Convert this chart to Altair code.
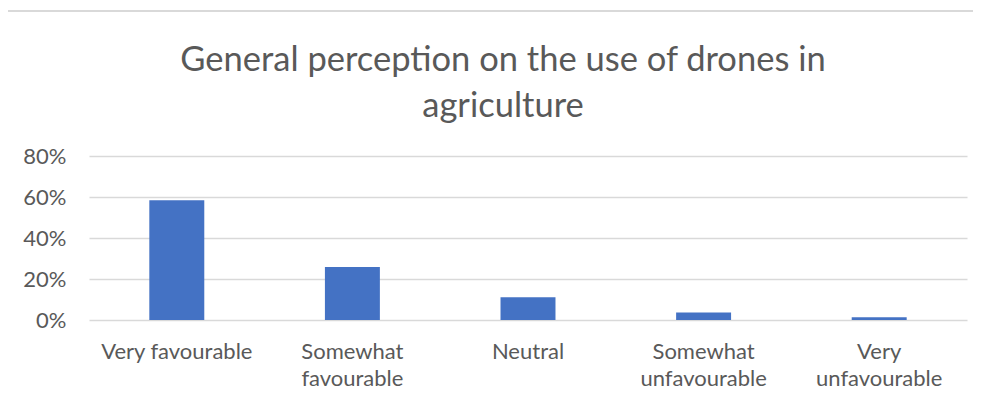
import altair as alt
import pandas as pd

categories = ["Very favourable", "Somewhat favourable", "Neutral",
              "Somewhat unfavourable", "Very unfavourable"]
values = [0.584, 0.259, 0.111, 0.037, 0.013]

df = pd.DataFrame({"category": categories, "value": values})

FONT = "Lato"
GRAY = "#595959"

bars = alt.Chart(df).mark_bar(color="#4472C4").encode(
    x=alt.X("category:N", sort=categories, title=None,
            scale=alt.Scale(paddingInner=0.687, paddingOuter=0.3435),
            axis=alt.Axis(labelAngle=0, domain=False, ticks=False,
                          labelPadding=21, labelFontSize=22, labelFont=FONT,
                          labelColor=GRAY, labelLineHeight=27,
                          labelExpr="(datum.value == 'Very favourable' || datum.value == 'Neutral') ? datum.value : split(datum.value, ' ')")),
    y=alt.Y("value:Q", title=None,
            scale=alt.Scale(domain=[0, 0.8], nice=False),
            axis=alt.Axis(values=[0, 0.2, 0.4, 0.6, 0.8], format=".0%",
                          domain=False, ticks=False, labelPadding=23,
                          labelFontSize=22, labelFont=FONT, labelColor=GRAY,
                          gridColor="#D9D9D9", gridWidth=1.3)),
)

frame = alt.Chart(df).mark_rule(color="#D9D9D9", strokeWidth=1.5).encode(
    x=alt.value(-85), x2=alt.value(900), y=alt.value(-145))
frame_left = alt.Chart(df).mark_rule(color="#D9D9D9", strokeWidth=1.5).encode(
    x=alt.value(-85), y=alt.value(-145), y2=alt.value(300))

chart = alt.layer(frame, frame_left, bars).properties(
    width=878, height=164,
    autosize=alt.AutoSizeParams(type="none"),
    padding={"left": 81, "top": 148, "right": 6, "bottom": 70},
    title=alt.TitleParams(
        text=["General perception on the use of drones in", "agriculture"],
        font=FONT, fontSize=34.5, fontWeight="normal", color=GRAY,
        anchor="middle", dx=-25, offset=-114, lineHeight=46),
).configure_view(stroke=None)

chart.save("out.html", embed_options={"renderer": "svg", "actions": False})
